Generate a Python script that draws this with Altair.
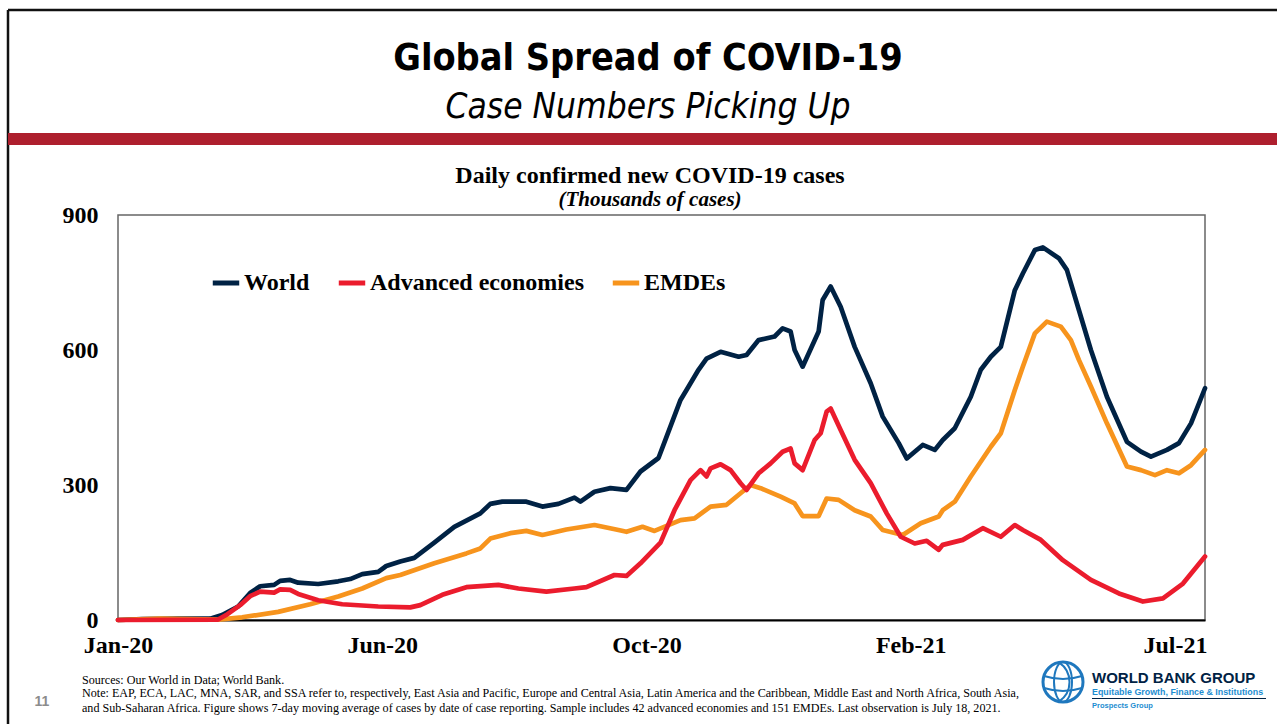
import altair as alt
import pandas as pd

# ---------------- data (thousands of daily cases, 7-day average) ----------------
START = pd.Timestamp("2020-01-22")

series_names = ["World", "Advanced economies", "EMDEs"]
series_colors = ["#002244", "#EB1C2D", "#F7941D"]

world_days = [0, 12, 30, 46, 52, 60, 66, 71, 78, 81, 86, 90, 100, 110, 116, 122, 130, 134, 141, 148,
              158, 168, 181, 186, 192, 204, 212, 220, 228, 231, 238, 246, 254, 261, 270, 274, 281, 284, 290, 294,
              301, 310, 314, 320, 328, 332, 336, 338, 342, 350, 352, 356, 361, 368, 376, 382, 390, 394, 402, 408,
              412, 418, 426, 431, 436, 441, 448, 452, 458, 462, 470, 474, 480, 486, 494, 504, 511, 516, 524, 530,
              536, 543]
world_vals = [0, 2, 3, 3, 11, 30, 60, 75, 78, 87, 89, 83, 80, 86, 91, 102, 107, 120, 130, 138,
              172, 207, 237, 258, 263, 263, 252, 258, 272, 263, 285, 293, 289, 330, 360, 407, 489, 511, 556, 581,
              596, 585, 589, 622, 630, 648, 641, 600, 563, 641, 711, 741, 696, 607, 526, 452, 393, 359, 389, 378,
              400, 426, 496, 556, 585, 607, 733, 770, 822, 828, 804, 778, 689, 600, 496, 396, 374, 363, 378, 393,
              437, 515]

adv_days = [0, 50, 54, 61, 66, 71, 78, 81, 86, 90, 100, 112, 130, 146, 151, 162, 174, 190, 200, 214,
            228, 234, 248, 254, 261, 271, 278, 286, 291, 294, 296, 301, 306, 311, 314, 320, 326, 332, 336, 338,
            342, 348, 351, 354, 356, 361, 368, 376, 384, 391, 398, 404, 410, 412, 422, 432, 441, 448, 452, 461,
            472, 486, 500, 512, 522, 532, 543]
adv_vals = [0, 1, 11, 33, 53, 63, 61, 68, 67, 58, 44, 35, 30, 28, 33, 56, 73, 78, 70, 63,
            70, 73, 100, 98, 126, 172, 244, 311, 333, 319, 337, 346, 333, 304, 289, 326, 348, 374, 381, 348,
            333, 400, 415, 463, 470, 422, 356, 304, 237, 185, 170, 176, 156, 167, 178, 204, 185, 211, 200, 178,
            133, 89, 59, 41, 48, 81, 141]

emde_days = [0, 21, 50, 62, 80, 96, 110, 122, 134, 141, 158, 174, 181, 186, 196, 204, 212, 224, 238, 250,
             254, 262, 268, 281, 288, 296, 304, 316, 321, 331, 338, 342, 350, 354, 360, 368, 376, 382, 392, 401,
             410, 412, 418, 426, 436, 441, 448, 452, 458, 464, 471, 476, 480, 486, 494, 504, 511, 518, 524, 530,
             536, 543]
emde_vals = [0, 3, 1, 6, 18, 35, 52, 70, 93, 100, 126, 148, 159, 181, 193, 198, 189, 201, 211, 200,
             196, 207, 198, 222, 226, 252, 256, 300, 293, 274, 259, 231, 231, 270, 267, 244, 230, 200, 189, 215,
             230, 244, 263, 319, 385, 415, 511, 563, 637, 663, 652, 622, 578, 519, 437, 341, 333, 322, 333, 326,
             344, 378]

y_ticks = [0, 300, 600, 900]
x_tick_dates = [(2020, 1, 22), (2020, 6, 2), (2020, 10, 12), (2021, 2, 21), (2021, 7, 3)]

rows = []
for name, days, vals in [("World", world_days, world_vals),
                         ("EMDEs", emde_days, emde_vals),
                         ("Advanced economies", adv_days, adv_vals)]:
    for d, v in zip(days, vals):
        rows.append({"date": (START + pd.Timedelta(days=d)).strftime("%Y-%m-%dT%H:%M:%S"),
                     "value": v, "series": name})
df = pd.DataFrame(rows)

# ---------------- layout ----------------
W, H = 1277, 724
OX, OY = 118, 215          # plot origin in page pixels
PW, PH = 1087, 405         # plot area
SERIF = "Liberation Serif"
NARROW = "Liberation Sans Narrow, DejaVu Sans Condensed, Liberation Sans, Arial"
SANS = "Liberation Sans, Arial"

lines = alt.Chart(df).mark_line(strokeWidth=4.7, strokeJoin="round", strokeCap="round").encode(
    x=alt.X("date:T",
            scale=alt.Scale(domain=[alt.DateTime(year=2020, month=1, date=22),
                                    alt.DateTime(year=2021, month=7, date=18)], nice=False),
            axis=alt.Axis(title=None, values=[alt.DateTime(year=a, month=b, date=c) for a, b, c in x_tick_dates],
                          format="%b-%y", labelFont=SERIF, labelFontSize=24, labelFontWeight="bold",
                          labelColor="black", ticks=False, grid=False, domainColor="black",
                          domainWidth=2, labelPadding=13, labelFlush=False, labelOverlap=False)),
    y=alt.Y("value:Q", scale=alt.Scale(domain=[0, 900], nice=False),
            axis=alt.Axis(title=None, values=y_ticks, labelFont=SERIF, labelFontSize=24,
                          labelFontWeight="bold", labelColor="black", ticks=False, grid=False,
                          domain=False, labelPadding=20)),
    color=alt.Color("series:N",
                    scale=alt.Scale(domain=series_names, range=series_colors),
                    legend=alt.Legend(orient="none", legendX=92, legendY=52, direction="horizontal",
                                      title=None, symbolType="stroke", symbolSize=700,
                                      symbolStrokeWidth=5, labelFont=SERIF, labelFontSize=24,
                                      labelFontWeight="bold", labelColor="black", columnPadding=18,
                                      labelOffset=2, labelLimit=400, padding=0)),
    detail="series:N",
)


def txt(text, ax, ay, size, font, weight="normal", style="normal", color="black", align="center"):
    return alt.Chart(alt.Data(values=[{"t": text}])).mark_text(
        text=text, font=font, fontSize=size, fontWeight=weight, fontStyle=style,
        color=color, align=align, baseline="alphabetic"
    ).encode(x=alt.value(ax - OX), y=alt.value(ay - OY))


def rule(ax1, ay1, ax2, ay2, color, width):
    return alt.Chart(alt.Data(values=[{"a": 1}])).mark_rule(color=color, strokeWidth=width).encode(
        x=alt.value(ax1 - OX), x2=alt.value(ax2 - OX), y=alt.value(ay1 - OY), y2=alt.value(ay2 - OY))


def band(ax1, ay1, ax2, ay2, color):
    return alt.Chart(alt.Data(values=[{"a": 1}])).mark_rect(color=color).encode(
        x=alt.value(ax1 - OX), x2=alt.value(ax2 - OX), y=alt.value(ay1 - OY), y2=alt.value(ay2 - OY))


def glyph(shape, ax, ay, size, color, width):
    return alt.Chart(alt.Data(values=[{"a": 1}])).mark_point(
        shape=shape, size=size, filled=False, stroke=color, strokeWidth=width, opacity=1
    ).encode(x=alt.value(ax - OX), y=alt.value(ay - OY))


decor = [
    rule(8, 10, W, 10, "#111111", 2.5),
    rule(8, 10, 8, H, "#111111", 2.5),
    band(8, 133, W, 145, "#AE1F2E"),
    txt("Global Spread of COVID-19", 648, 70, 37.5, NARROW, weight="bold"),
    txt("Case Numbers Picking Up", 648, 118, 35, NARROW, style="italic"),
    txt("Daily confirmed new COVID-19 cases", 650, 183, 24, SERIF, weight="bold"),
    txt("(Thousands of cases)", 650, 206, 21, SERIF, weight="bold", style="italic"),
    txt("Sources: Our World in Data; World Bank.", 82, 684, 12.1, SERIF, align="left"),
    txt("Note: EAP, ECA, LAC, MNA, SAR, and SSA refer to, respectively, East Asia and Pacific, Europe and "
        "Central Asia, Latin America and the Caribbean, Middle East and North Africa, South Asia,",
        82, 697, 12.1, SERIF, align="left"),
    txt("and Sub-Saharan Africa. Figure shows 7-day moving average of cases by date of case reporting. "
        "Sample includes 42 advanced economies and 151 EMDEs. Last observation is July 18, 2021.",
        82, 712, 12.1, SERIF, align="left"),
    txt("11", 42, 706, 14, SANS, weight="bold", color="#8c8c8c"),
    # World Bank Group logo
    glyph("circle", 1063, 682, 1600, "#1F78BE", 3),
    glyph("M0,-1 A0.45,1 0 1,1 0,1 A0.45,1 0 1,1 0,-1", 1063, 682, 1600, "#1F78BE", 2),
    glyph("M-0.2,-0.98 C0.5,-0.5 0.5,0.5 -0.2,0.98", 1063, 682, 1600, "#1F78BE", 2),
    glyph("M-0.95,-0.3 Q0,0 0.95,-0.3", 1063, 682, 1600, "#1F78BE", 2),
    glyph("M-0.95,0.3 Q0,0.6 0.95,0.3", 1063, 682, 1600, "#1F78BE", 2),
    txt("WORLD BANK GROUP", 1092, 683, 15, SANS, weight="bold", color="#002244", align="left"),
    txt("Equitable Growth, Finance & Institutions", 1092, 695, 8.9, SANS, weight="bold",
        color="#1D8DD1", align="left"),
    rule(1092, 698.5, 1266, 698.5, "#002244", 1),
    txt("Prospects Group", 1092, 708, 7.5, SANS, weight="bold", color="#1D8DD1", align="left"),
]

chart = alt.layer(lines, *decor).properties(
    width=PW, height=PH,
    padding={"left": OX, "top": OY, "right": W - OX - PW, "bottom": H - OY - PH},
    autosize=alt.AutoSizeParams(type="none"),
    background="white",
).configure_view(stroke="#666666", strokeWidth=1.5)

chart.save("out.html", embed_options={"renderer": "svg", "actions": False})
